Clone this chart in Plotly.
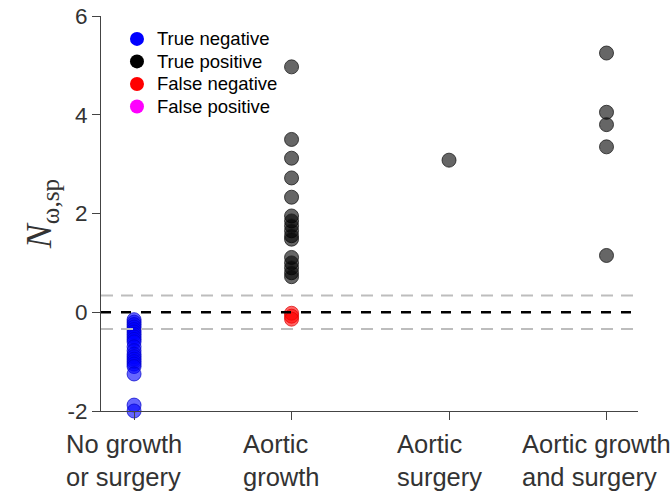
import plotly.graph_objects as go

categories = ["No growth<br>or surgery", "Aortic<br>growth", "Aortic<br>surgery", "Aortic growth<br>and surgery"]
cat_pos = [1, 2, 3, 4]

# True negatives (category 1)
tn_vals = [-0.15, -0.2, -0.25, -0.3, -0.35, -0.4, -0.45, -0.5, -0.55, -0.6,
           -0.7, -0.78, -0.85, -0.9, -0.95, -1.0, -1.05, -1.1, -1.25, -1.88, -2.0]
# True positives
tp_cat2 = [4.97, 3.5, 3.12, 2.72, 2.33, 1.95, 1.85, 1.75, 1.65, 1.55, 1.48,
           1.11, 1.0, 0.9, 0.8, 0.72]
tp_cat3 = [3.08]
tp_cat4 = [5.25, 4.05, 3.8, 3.35, 1.15]
# False negatives (category 2)
fn_vals = [-0.02, -0.08, -0.14]

threshold_center = 0.0
threshold_band = [0.34, -0.34]

y_ticks = [-2, 0, 2, 4, 6]
y_ticktext = ["-2", "0", "2", "4", "6"]

legend_items = [("True negative", "#0000ff"), ("True positive", "#000000"),
                ("False negative", "#ff0000"), ("False positive", "#ff00ff")]

fig = go.Figure()

def add_pts(name, xs, ys, fill, edge):
    fig.add_trace(go.Scatter(
        x=xs, y=ys, mode="markers", name=name, showlegend=False, cliponaxis=False,
        marker=dict(size=14, color=fill, line=dict(color=edge, width=1)),
    ))

add_pts("True negative", [cat_pos[0]] * len(tn_vals), tn_vals, "rgba(0,0,255,0.6)", "rgba(0,0,200,0.7)")
tp_x = [cat_pos[1]] * len(tp_cat2) + [cat_pos[2]] * len(tp_cat3) + [cat_pos[3]] * len(tp_cat4)
add_pts("True positive", tp_x, tp_cat2 + tp_cat3 + tp_cat4, "rgba(0,0,0,0.6)", "rgba(30,30,30,0.8)")
add_pts("False negative", [cat_pos[1]] * len(fn_vals), fn_vals, "rgba(255,0,0,0.6)", "rgba(220,0,0,0.7)")

# threshold lines
for v in threshold_band:
    fig.add_shape(type="line", xref="paper", yref="y", x0=0, x1=1, y0=v, y1=v,
                  line=dict(color="#bdbdbd", width=2, dash="12px,8px"), layer="above")
fig.add_shape(type="line", xref="paper", yref="y", x0=0, x1=1,
              y0=threshold_center, y1=threshold_center,
              line=dict(color="#000000", width=2.5, dash="10px,10px"), layer="above")

# custom legend (layout decoration)
leg_x = 0.067
leg_y0 = 0.942
leg_step = 0.057
for i, (name, col) in enumerate(legend_items):
    yy = leg_y0 - i * leg_step
    fig.add_shape(type="circle", xref="paper", yref="paper", xsizemode="pixel", ysizemode="pixel",
                  xanchor=leg_x, yanchor=yy, x0=-7, x1=7, y0=-7, y1=7,
                  fillcolor=col, line=dict(color=col, width=0), layer="above")
    fig.add_annotation(x=leg_x, y=yy, xref="paper", yref="paper", text=name, showarrow=False,
                       xanchor="left", yanchor="middle", xshift=18,
                       font=dict(family="Liberation Sans, Arial, sans-serif", size=18.5, color="#000000"))

for xp, lab in zip(cat_pos, categories):
    fig.add_annotation(x=xp, y=0, xref="x", yref="paper", text=lab, showarrow=False,
                       align="left", xanchor="center", yanchor="top", yshift=-17, xshift=-10,
                       font=dict(family="Liberation Sans, Arial, sans-serif", size=25.5, color="#333333"))

axis_font = dict(family="Liberation Sans, Arial, sans-serif", size=22.5, color="#333333")
fig.update_layout(
    width=671, height=499,
    margin=dict(l=101, r=33, t=16, b=88),
    paper_bgcolor="white", plot_bgcolor="white",
    showlegend=False,
    xaxis=dict(range=[0.79, 4.2], tickvals=cat_pos, ticktext=[""] * 4, showgrid=False,
               zeroline=False, showline=True, linecolor="#444444", linewidth=1,
               ticks="outside", ticklen=8, tickcolor="#444444", automargin=False),
    yaxis=dict(range=[-2, 6], tickvals=y_ticks, ticktext=y_ticktext, showgrid=False, zeroline=False,
               showline=True, linecolor="#444444", linewidth=1, ticks="outside",
               ticklen=8, tickcolor="#444444", tickfont=axis_font, automargin=False,
               title=dict(text="<i>N</i><sub>ω,sp</sub>",
                          font=dict(family="Liberation Serif, DejaVu Serif, serif", size=36, color="#333333"),
                          standoff=4)),
)

fig.write_html("out.html")
